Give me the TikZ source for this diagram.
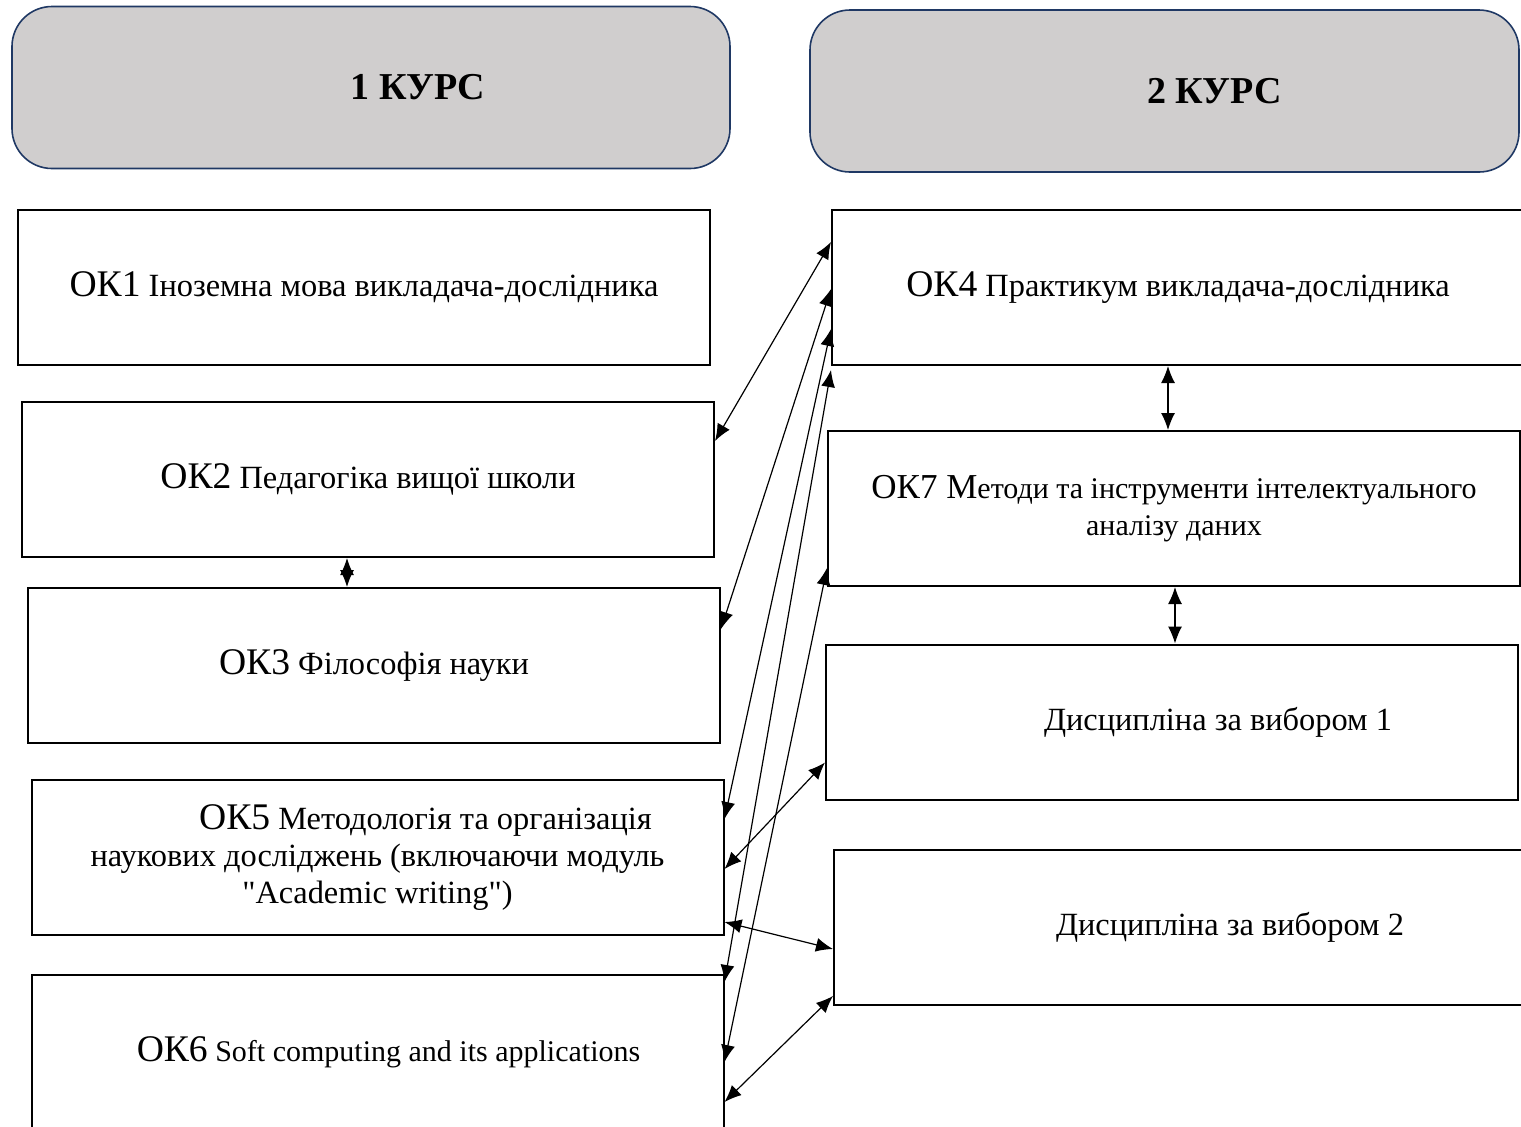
\documentclass[tikz,border=0pt]{standalone}
\usepackage{fontspec}
\setmainfont{Liberation Serif}[Ligatures=TeXOff]
\usetikzlibrary{arrows.meta}
\definecolor{hdrgray}{HTML}{D0CECE}
\definecolor{hdrline}{HTML}{1F3864}
\tikzset{>={Latex[length=8.5pt,width=7pt]}}
\tikzset{
	course/.style={draw=hdrline, line width=0.8pt, fill=hdrgray, rounded corners=20pt,
			minimum width=359pt, minimum height=81pt, font=\bfseries\fontsize{19}{23}\selectfont},
	subj/.style={draw, line width=1pt, minimum width=346pt, minimum height=77.5pt,
			align=center, font=\fontsize{16.2}{18.5}\selectfont},
	link/.style={<->, line width=0.6pt}
}
\newcommand\okbig[1]{{\fontsize{18.8}{22}\selectfont #1}}

\begin{document}
\begin{tikzpicture}[x=0.5pt,y=-0.5pt]
	\clip (0,0) rectangle (1521,1126);

	\node[course] (hdr1) at (371,87.5) {\hspace*{47pt}1 КУРС};
	\node[course, minimum width=354.5pt] (hdr2) at (1164.5,91) {\hspace*{50pt}2 КУРС};

	\node[subj] (ok1) at (364,287) {\okbig{ОК1} Іноземна мова викладача-дослідника};
	\node[subj] (ok2) at (368,479.5) {\okbig{ОК2} Педагогіка вищої школи};
	\node[subj] (ok3) at (374,665.5) {\okbig{ОК3} Філософія науки};
	\node[subj] (ok5) at (377.5,857.5) {\hspace*{48pt}\okbig{ОК5} Методологія та організація\\
		наукових досліджень (включаючи модуль\\"Academic writing")};
	\node[subj, font=\fontsize{15}{18}\selectfont] (ok6) at (377.5,1052.5)
		{\hspace*{11pt}\okbig{ОК6} Soft computing and its applications};

	\node[subj] (ok4) at (1178,287.5) {\okbig{ОК4} Практикум викладача-дослідника};
	\node[subj, font=\fontsize{15}{18.5}\selectfont] (ok7) at (1174,508.5)
		{{\fontsize{17.5}{20}\selectfont ОК7 М}етоди та інструменти інтелектуального\\аналізу даних};
	\node[subj] (dis1) at (1172,722) {\hspace*{46pt}Дисципліна за вибором 1};
	\node[subj] (dis2) at (1180,927.5) {\hspace*{50pt}Дисципліна за вибором 2};

	\draw[link] ([xshift=-10.5pt]ok2.south) -- ([xshift=-10.5pt]ok2.south |- ok3.north);
	\draw[link] ([xshift=-5pt]ok4.south) -- ([xshift=-5pt]ok4.south |- ok7.north);
	\draw[link] ([xshift=0.5pt]ok7.south) -- ([xshift=0.5pt]ok7.south |- dis1.north);

	\draw[link] ([yshift=-16.5pt]ok4.north west) -- ([yshift=-20pt]ok2.north east);
	\draw[link] ([yshift=-40pt]ok4.north west) -- ([yshift=-21pt]ok3.north east);
	\draw[link] ([yshift=-60pt]ok4.north west) -- ([yshift=-20pt]ok5.north east);
	\draw[link] ([yshift=-2pt]ok4.south west) -- ([yshift=-4pt]ok6.north east);
	\draw[link] ([yshift=-69pt]ok7.north west) -- ([yshift=-44pt]ok6.north east);
	\draw[link] ([yshift=-59.5pt]dis1.north west) -- ([yshift=-45pt]ok5.north east);
	\draw[link] ([yshift=-71.5pt]ok5.north east) -- ([yshift=-50pt]dis2.north west);
	\draw[link] ([yshift=-73.5pt]dis2.north west) -- ([yshift=-64pt]ok6.north east);
\end{tikzpicture}
\end{document}
